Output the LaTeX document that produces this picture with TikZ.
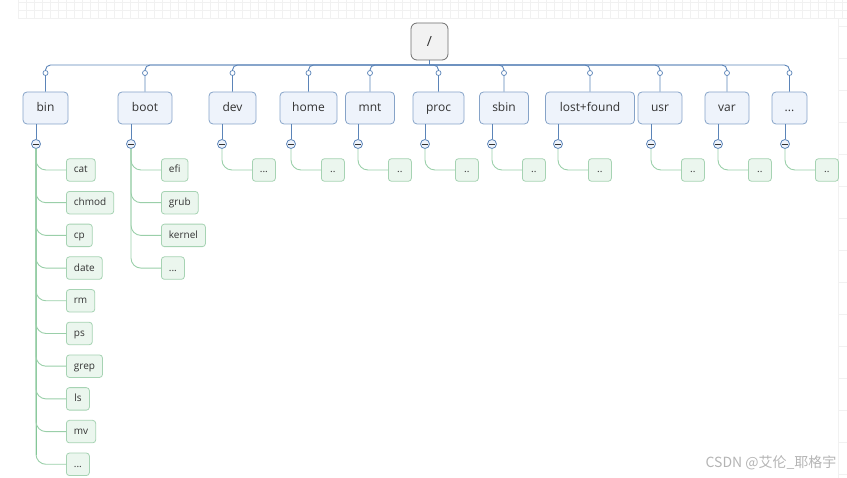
\documentclass[tikz,border=0pt]{standalone}
\usepackage{fontspec}
\setmainfont{Open Sans}
\newfontfamily\cjk{Noto Sans CJK SC}
\newcommand\tdots{...}
\newcommand\wdots{..}
\definecolor{busc}{HTML}{5B84B8}
\definecolor{topb}{HTML}{86A3C8}
\definecolor{topf}{HTML}{EEF3FB}
\definecolor{rootb}{HTML}{6E6E6E}
\definecolor{rootf}{HTML}{F2F2F2}
\definecolor{leafb}{HTML}{A6D3B3}
\definecolor{leaff}{HTML}{EBF6EE}
\definecolor{leafl}{HTML}{9ACFA9}
\definecolor{trunk}{HTML}{79C28E}
\definecolor{txt}{HTML}{333333}
\definecolor{gridc}{HTML}{F1F1F1}
\definecolor{wmgray}{HTML}{B4B4B4}
\tikzset{
  rootbox/.style={draw=rootb, fill=rootf, rounded corners=6pt, minimum width=37pt, minimum height=37pt, inner sep=0pt, line width=0.8pt, text=txt, font=\fontsize{14}{16}\selectfont},
  topbox/.style={draw=topb, fill=topf, rounded corners=4pt, minimum height=32pt, inner sep=0pt, text height=9.5pt, text depth=2.5pt, line width=0.8pt, text=txt, font=\fontsize{12}{14}\selectfont},
  leafbox/.style={draw=leafb, fill=leaff, rounded corners=3pt, minimum height=22.5pt, minimum width=23pt, inner xsep=7.5pt, inner ysep=0pt, text height=8pt, text depth=2pt, anchor=west, line width=0.8pt, text=txt, font=\fontsize{10}{12}\selectfont},
  busline/.style={draw=busc, line width=0.9pt},
  leafline/.style={draw=leafl, line width=0.9pt, rounded corners=10pt},
  minusc/.style={circle, draw=busc, fill=topf, minimum size=9pt, inner sep=0pt, line width=0.8pt},
  knob/.style={circle, draw=busc, fill=white, minimum size=5pt, inner sep=0pt, line width=0.7pt}
}
\begin{document}
\begin{tikzpicture}[x=1pt,y=-1pt]
\useasboundingbox (0,0) rectangle (847,478);
% faint background grid of the editor
\foreach \gx in {18,26,...,846} \draw[gridc, line width=0.4pt] (\gx,0) -- (\gx,18);
\foreach \gy in {2,10,18} \draw[gridc, line width=0.4pt] (18,\gy) -- (847,\gy);
\foreach \gy in {26,58,...,478} \draw[gridc, line width=0.4pt] (838,\gy) -- (847,\gy);
\draw[gridc, line width=0.4pt] (838,18) -- (838,478);

% root
\node[rootbox] (root) at (429.5,41.5) {/};
\coordinate (hub) at (429.5,65);
\draw[busline] (root.south) -- (hub);

% top level
\foreach \lab/\cx/\w/\lx [count=\i] in {
  bin/45.5/45/36, boot/145/54/131, dev/232.5/47/222, home/308.5/57/291,
  mnt/370/49/358, proc/438.5/51/425, sbin/504/49/492, lost+found/590/89/558,
  usr/660/44/651, var/727/44/718, \tdots/789.5/35/785}{
  \node[topbox, minimum width=\w pt] (t\i) at (\cx,108) {\lab};
  \draw[busline, rounded corners=5pt] (hub) -- (\cx,65) -- (t\i.north);
  \node[knob] (k\i) at (\cx,73) {};
  \node[minusc] (m\i) at (\lx,144) {};
  \draw[busline] (m\i.north) -- (m\i.north |- t\i.south);
  \draw[txt, line width=0.9pt] ([xshift=-2.6pt]m\i.center) -- ([xshift=2.6pt]m\i.center);
}

% bin children
\draw[trunk, line width=1pt] (m1.south) -- (36,455);
\foreach \lab [count=\j] in {cat,chmod,cp,date,rm,ps,grep,ls,mv,\tdots}{
  \node[leafbox] (b\j) at (66,{170+(\j-1)*32.7}) {\lab};
  \draw[leafline] (m1.south) -- (m1.south |- b\j.west) -- (b\j.west);
}
% boot children
\foreach \lab [count=\j] in {efi,grub,kernel,\tdots}{
  \node[leafbox] (o\j) at (161,{170+(\j-1)*32.7}) {\lab};
  \draw[leafline] (m2.south) -- (m2.south |- o\j.west) -- (o\j.west);
}
% single children of the others
\foreach \i/\lab in {3/\tdots,4/\wdots,5/\wdots,6/\wdots,7/\wdots,8/\wdots,9/\wdots,10/\wdots,11/\wdots}{
  \node[leafbox] (s\i) at ([xshift=30pt]m\i.center |- 0,170) {\lab};
  \draw[leafline] (m\i.south) -- (m\i.south |- s\i.west) -- (s\i.west);
}

% watermark
\node[anchor=east, text=wmgray, font=\cjk\fontsize{14}{16}\selectfont] (wm) at (840,463) {CSDN @艾伦\_耶格宇};
\end{tikzpicture}
\end{document}
